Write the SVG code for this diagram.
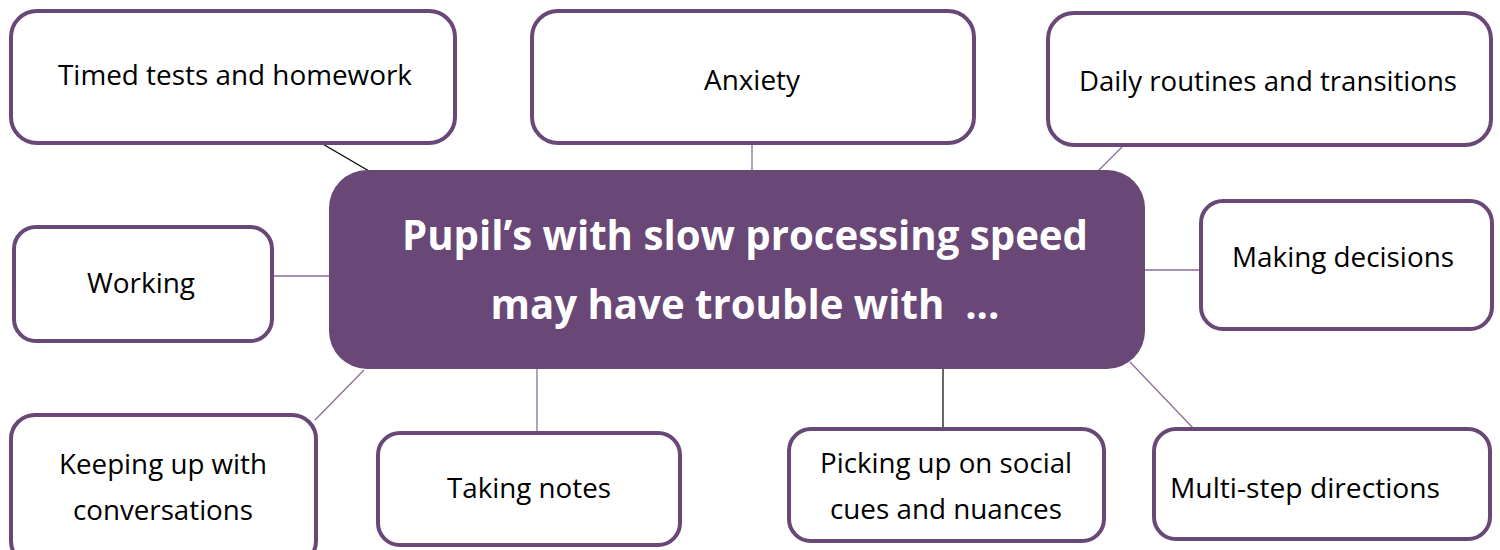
<svg xmlns="http://www.w3.org/2000/svg" width="1500" height="550" viewBox="0 0 1500 550">
<style>
.box{fill:#fff;stroke:#694776;stroke-width:4}
.lbl{font-family:"Open Sans","Liberation Sans",sans-serif;font-size:27px;fill:#000;text-anchor:middle}
.ctr{font-family:"Open Sans","Liberation Sans",sans-serif;font-size:42px;font-weight:bold;fill:#fff;text-anchor:middle}
.c{stroke:#8b6d99;stroke-width:1.3;fill:none}
.k{stroke:#000;stroke-width:1.2;fill:none}
</style>
<rect width="1500" height="550" fill="#fff"/>
<g id="connectors">
<line class="k" x1="321" y1="143" x2="369" y2="171"/>
<line class="c" x1="752" y1="143" x2="752" y2="171"/>
<line class="c" x1="1122" y1="147" x2="1098" y2="171"/>
<line class="c" x1="272" y1="276" x2="330" y2="276"/>
<line class="c" x1="1144" y1="270" x2="1200" y2="270"/>
<line class="c" x1="364" y1="370" x2="315" y2="420"/>
<line class="c" x1="537" y1="368" x2="537" y2="432"/>
<line class="k" x1="943" y1="368" x2="943" y2="428"/>
<line class="c" x1="1130" y1="362" x2="1193" y2="428"/>
</g>
<g id="center">
<rect x="329" y="170" width="816" height="199" rx="38" fill="#694776"/>
<text class="ctr" x="745" y="250" textLength="686" lengthAdjust="spacingAndGlyphs">Pupil’s with slow processing speed</text>
<text class="ctr" x="745" y="319" textLength="509" lengthAdjust="spacingAndGlyphs" xml:space="preserve">may have trouble with  ...</text>
</g>
<g id="timed">
<rect class="box" x="11" y="11" width="444" height="132" rx="26"/>
<text class="lbl" x="235" y="85" textLength="354" lengthAdjust="spacingAndGlyphs">Timed tests and homework</text>
</g>
<g id="anxiety">
<rect class="box" x="532" y="11" width="442" height="132" rx="26"/>
<text class="lbl" x="752" y="90" textLength="96" lengthAdjust="spacingAndGlyphs">Anxiety</text>
</g>
<g id="daily">
<rect class="box" x="1048" y="13" width="443" height="132" rx="26"/>
<text class="lbl" x="1268" y="91" textLength="378" lengthAdjust="spacingAndGlyphs">Daily routines and transitions</text>
</g>
<g id="working">
<rect class="box" x="14" y="227" width="258" height="114" rx="22"/>
<text class="lbl" x="141" y="293" textLength="108" lengthAdjust="spacingAndGlyphs">Working</text>
</g>
<g id="decisions">
<rect class="box" x="1201" y="201" width="291" height="128" rx="22"/>
<text class="lbl" x="1343" y="267" textLength="222" lengthAdjust="spacingAndGlyphs">Making decisions</text>
</g>
<g id="keeping">
<rect class="box" x="11" y="415" width="305" height="150" rx="24"/>
<text class="lbl" x="163" y="474" textLength="208" lengthAdjust="spacingAndGlyphs">Keeping up with</text>
<text class="lbl" x="163" y="520" textLength="180" lengthAdjust="spacingAndGlyphs">conversations</text>
</g>
<g id="notes">
<rect class="box" x="378" y="433" width="302" height="112" rx="22"/>
<text class="lbl" x="529" y="498" textLength="164" lengthAdjust="spacingAndGlyphs">Taking notes</text>
</g>
<g id="social">
<rect class="box" x="789" y="429" width="315" height="112" rx="22"/>
<text class="lbl" x="946" y="473" textLength="252" lengthAdjust="spacingAndGlyphs">Picking up on social</text>
<text class="lbl" x="946" y="519" textLength="232" lengthAdjust="spacingAndGlyphs">cues and nuances</text>
</g>
<g id="multistep">
<rect class="box" x="1154" y="429" width="336" height="110" rx="22"/>
<text class="lbl" x="1305" y="498" textLength="270" lengthAdjust="spacingAndGlyphs">Multi-step directions</text>
</g>
</svg>
